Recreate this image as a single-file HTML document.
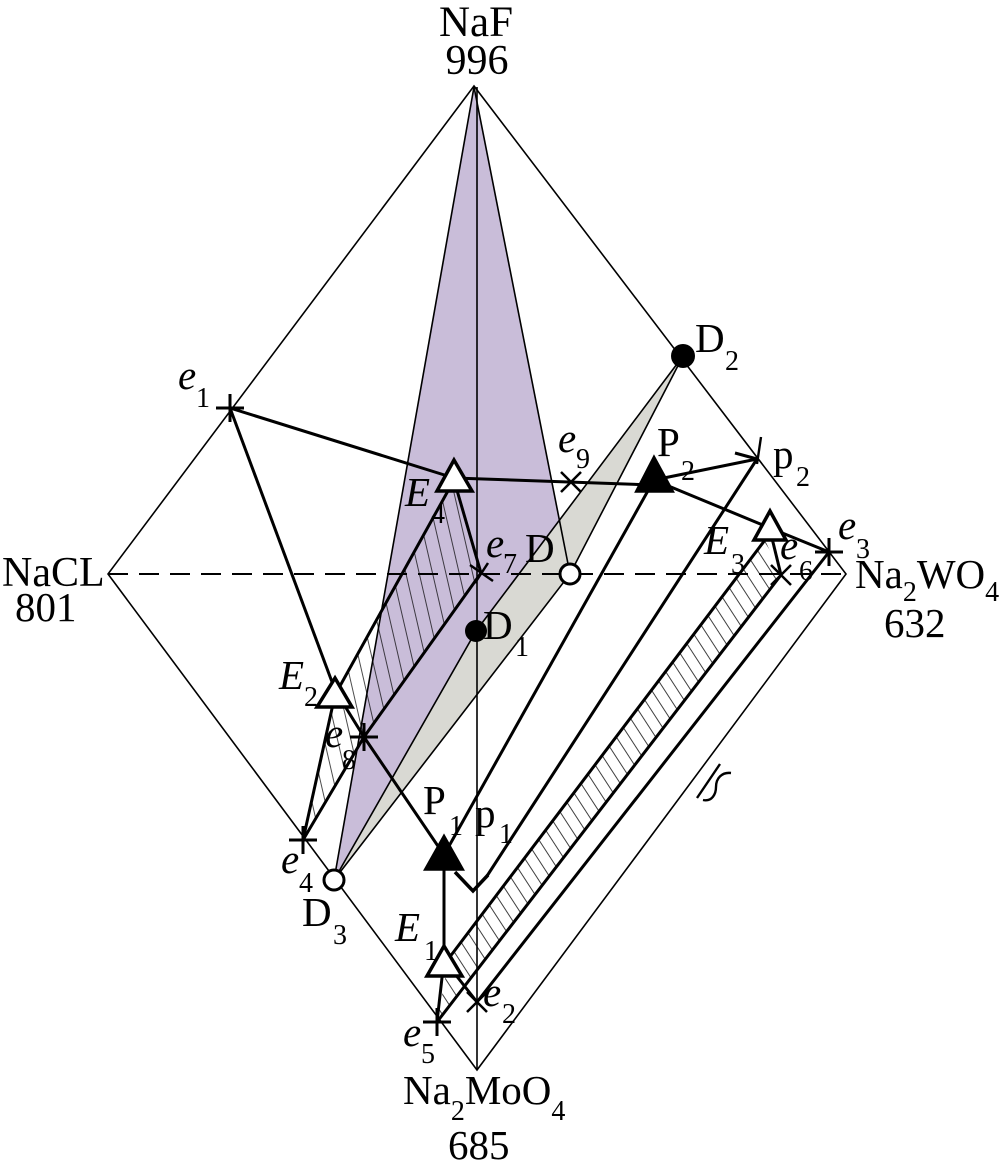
<!DOCTYPE html>
<html><head><meta charset="utf-8"><style>
html,body{margin:0;padding:0;background:#fff;}
svg{display:block;}
text{font-family:"Liberation Serif",serif;fill:#000;}
.i{font-style:italic;}
</style></head><body>
<svg width="1004" height="1176" viewBox="0 0 1004 1176" xmlns="http://www.w3.org/2000/svg">
<defs>
<pattern id="h1" patternUnits="userSpaceOnUse" width="13" height="60" patternTransform="rotate(-13)">
<line x1="6.5" y1="-10" x2="6.5" y2="70" stroke="#000" stroke-width="0.7"/>
</pattern>
<pattern id="h2" patternUnits="userSpaceOnUse" width="11" height="60" patternTransform="rotate(-33)">
<line x1="5.5" y1="-10" x2="5.5" y2="70" stroke="#000" stroke-width="0.75"/>
</pattern>
</defs>
<rect width="1004" height="1176" fill="#fff"/>

<!-- shaded regions -->
<polygon points="474,87 570,574 334,880" fill="#c9bdd9"/>
<polygon points="683,356 570,574 334,880 476,631" fill="#d9d9d3"/>

<!-- hatches -->
<polygon points="454,478 481,573 364,737 303,840 335,692" fill="url(#h1)"/>
<polygon points="449,958 765,540 781,575 437,1022" fill="url(#h2)"/>

<!-- thin lines -->
<g stroke="#000" stroke-width="1.6" fill="none">
<polygon points="474,86 108,574 477,1070 846,574"/>
<line x1="477" y1="87" x2="477" y2="1070"/>
<line x1="474" y1="87" x2="334" y2="880"/>
<line x1="474" y1="87" x2="570" y2="574"/>
<polyline points="683,356 476,631 334,880"/>
<polyline points="683,356 570,574 334,880"/>
</g>
<line x1="108" y1="574" x2="846" y2="574" stroke="#000" stroke-width="2" stroke-dasharray="20,11"/>

<!-- ss marker -->
<g stroke="#000" stroke-width="2.4" fill="none">
<line x1="697" y1="798" x2="720" y2="764"/>
<path d="M703,800 C712,802 716,794 716,787 C716,778 722,772 731,773"/>
</g>

<!-- thick lines -->
<g stroke="#000" stroke-width="3" fill="none" stroke-linejoin="miter">
<line x1="230" y1="408" x2="454" y2="478"/>
<line x1="230" y1="408" x2="335" y2="690"/>
<line x1="454" y1="478" x2="654" y2="485"/>
<line x1="654" y1="480" x2="757" y2="459"/>
<line x1="735" y1="453" x2="757" y2="459"/>
<line x1="761" y1="437" x2="757" y2="464" stroke-width="2.4"/>
<line x1="654" y1="480" x2="770" y2="528"/>
<line x1="770" y1="528" x2="829" y2="552"/>
<line x1="770" y1="530" x2="781" y2="575"/>
<line x1="454" y1="480" x2="481" y2="573"/>
<line x1="454" y1="480" x2="335" y2="695"/>
<polyline points="481,573 364,737 303,840"/>
<line x1="335" y1="695" x2="303" y2="840"/>
<polyline points="335,690 364,737 444,855"/>
<line x1="444" y1="855" x2="444" y2="960"/>
<line x1="444" y1="960" x2="437" y2="1022"/>
<line x1="444" y1="960" x2="477" y2="1002"/>
<line x1="654" y1="480" x2="444" y2="855"/>
<line x1="757" y1="459" x2="487" y2="876"/>
<polyline points="455,872 473,891 488,875" stroke-width="3.5"/>
<line x1="449" y1="958" x2="765" y2="540"/>
<line x1="437" y1="1022" x2="781" y2="575"/>
<line x1="477" y1="1002" x2="829" y2="552"/>
</g>

<!-- plus markers -->
<g stroke="#000" stroke-width="3">
<path d="M216,408 H244 M230,394 V422"/>
<path d="M815,552 H843 M829,538 V566"/>
<path d="M289,840 H317 M303,826 V854"/>
<path d="M423,1022 H451 M437,1008 V1036"/>
<path d="M350,737 H378 M364,723 V751"/>
</g>
<!-- x markers -->
<g stroke="#000" stroke-width="2.5">
<path d="M561,472 L581,492 M581,472 L561,492"/>
<path d="M771,565 L791,585 M791,565 L771,585"/>
<path d="M467,992 L487,1012 M487,992 L467,1012"/>
<path d="M470,565 L493,581 M488,563 L475,583"/>
</g>

<!-- triangles -->
<g stroke="#000" stroke-width="3.5" stroke-linejoin="miter">
<polygon points="454,460 437,491 472,491" fill="#fff"/>
<polygon points="335,678 317,707 352,707" fill="#fff"/>
<polygon points="770,511 754,540 786,540" fill="#fff"/>
<polygon points="444,946 427,976 462,976" fill="#fff"/>
<polygon points="654,458 637,491 672,491" fill="#000"/>
<polygon points="444,837 426,869 462,869" fill="#000"/>
</g>

<!-- circles -->
<circle cx="683" cy="356" r="12" fill="#000"/>
<circle cx="476" cy="631" r="11" fill="#000"/>
<circle cx="570" cy="574" r="10" fill="#fff" stroke="#000" stroke-width="3"/>
<circle cx="334" cy="880" r="10" fill="#fff" stroke="#000" stroke-width="3"/>

<!-- labels -->
<text x="476" y="36" font-size="43" text-anchor="middle">NaF</text>
<text x="477" y="74" font-size="42" text-anchor="middle">996</text>
<text x="2" y="586" font-size="42">NaCL</text>
<text x="15" y="621" font-size="41">801</text>
<text x="855" y="588" font-size="41">Na<tspan font-size="28" dy="13">2</tspan><tspan dy="-13">WO</tspan><tspan font-size="28" dy="13">4</tspan></text>
<text x="884" y="637" font-size="41">632</text>
<text x="403" y="1104" font-size="41">Na<tspan font-size="28" dy="16">2</tspan><tspan dy="-16">MoO</tspan><tspan font-size="28" dy="16">4</tspan></text>
<text x="448" y="1159" font-size="41">685</text>

<g font-size="41">
<text x="178" y="389" class="i">e</text><text x="196" y="407" font-size="28">1</text>
<text x="405" y="506" class="i">E</text><text x="431" y="523" font-size="28">4</text>
<text x="558" y="452" class="i">e</text><text x="576" y="468" font-size="28">9</text>
<text x="657" y="456">P</text><text x="681" y="480" font-size="28">2</text>
<text x="773" y="468">p</text><text x="796" y="486" font-size="28">2</text>
<text x="695" y="352">D</text><text x="725" y="370" font-size="28">2</text>
<text x="486" y="557" class="i">e</text><text x="503" y="573" font-size="28">7</text>
<text x="525" y="562">D</text>
<text x="483" y="639">D</text><text x="515" y="656" font-size="28">1</text>
<text x="704" y="554" class="i">E</text><text x="731" y="573" font-size="28">3</text>
<text x="780" y="559" class="i">e</text><text x="799" y="580" font-size="28">6</text>
<text x="838" y="539" class="i">e</text><text x="856" y="558" font-size="28">3</text>
<text x="279" y="689" class="i">E</text><text x="304" y="706" font-size="28">2</text>
<text x="325" y="747" class="i">e</text><text x="342" y="769" font-size="28">8</text>
<text x="281" y="873" class="i">e</text><text x="299" y="892" font-size="28">4</text>
<text x="302" y="926">D</text><text x="333" y="944" font-size="28">3</text>
<text x="423" y="814">P</text><text x="449" y="835" font-size="28">1</text>
<text x="475" y="827">p</text><text x="499" y="843" font-size="28">1</text>
<text x="395" y="941" class="i">E</text><text x="424" y="960" font-size="28">1</text>
<text x="483" y="1006" class="i">e</text><text x="502" y="1023" font-size="28">2</text>
<text x="403" y="1046" class="i">e</text><text x="421" y="1063" font-size="28">5</text>
</g>
</svg>
</body></html>
